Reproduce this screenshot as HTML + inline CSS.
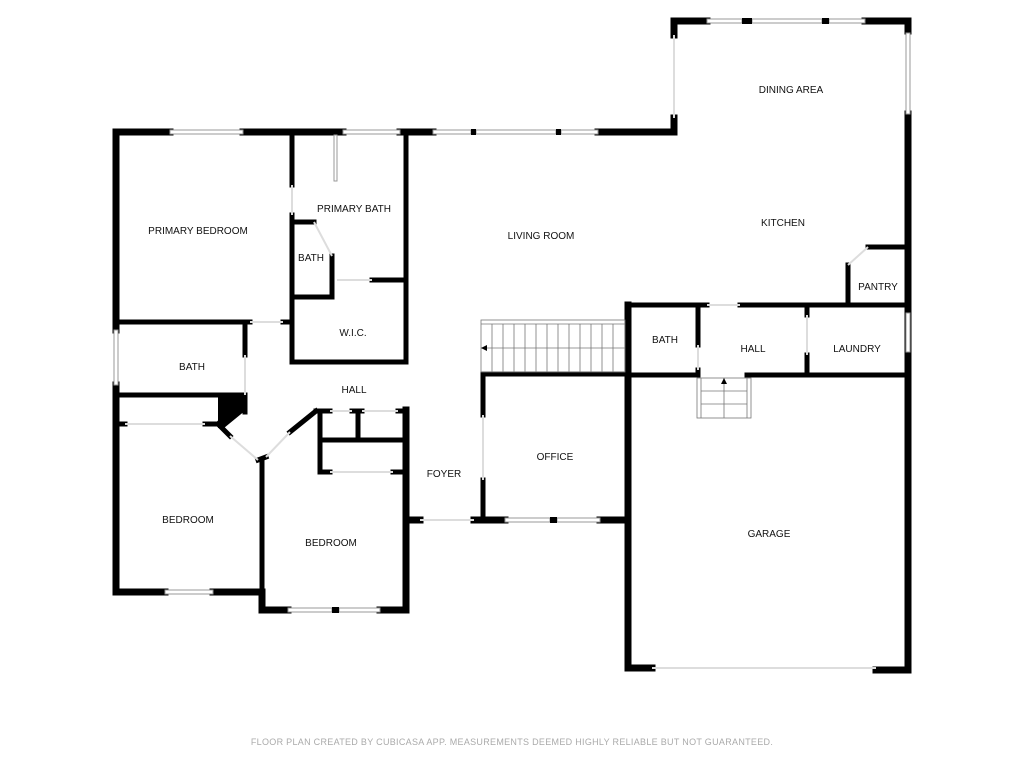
<!DOCTYPE html>
<html><head><meta charset="utf-8"><style>
body{margin:0;background:#fff}
svg text{font-family:"Liberation Sans",sans-serif;font-size:10px;fill:#111;text-anchor:middle}
</style></head><body>
<svg width="1024" height="768" viewBox="0 0 1024 768" xmlns="http://www.w3.org/2000/svg">
<rect width="1024" height="768" fill="#fff"/>
<g stroke="#000" stroke-width="7" stroke-linecap="square" fill="none">
<path d="M116 132H170M243 132H343M400 132H433M598 132H674V118M674 35V21H707M865 21H908V31M908 114V670H876"/>
<path d="M116 132V330M116 385V592H165M213 592H262V610H288M380 610H406V410"/>
<path d="M406 520H420M474 520H505M600 520H628"/>
<path d="M628 305V668H652"/>
</g>
<g stroke="#000" stroke-width="5" stroke-linecap="square" fill="none">
<path d="M292 132V185M292 215V362H406V132"/>
<path d="M292 222H314M332 256V297H292M372 280H406"/>
<path d="M116 322H250M283 322H292M245 322V355M116 395H245V412M116 424H125M205 424H218"/>
<path d="M218 424L230 436M258 460L266 457M262 460V610M290 432L316 411M316 411H330M352 411H362M398 411H406M320 411V472H330M393 472H406M358 411V440M320 440H406"/>
<path d="M483 375V415M483 480V520M483 374H628"/>
<path d="M628 305H707M740 305H908M698 305V345M698 370V375M628 375H697M747 375H908M807 305V315M807 355V375M848 305V265M868 247H908"/>
</g>
<polygon points="218,395 246,395 246,410 224,428 218,428" fill="#000"/>
<!-- windows -->
<g fill="#fff" stroke="#999" stroke-width="1">
<rect x="170" y="130" width="73" height="4"/><rect x="343" y="130" width="57" height="4"/>
<rect x="433" y="130" width="38" height="4"/><rect x="476" y="130" width="80" height="4"/><rect x="561" y="130" width="37" height="4"/>
<rect x="707" y="19" width="35" height="4"/><rect x="752" y="19" width="70" height="4"/><rect x="829" y="19" width="36" height="4"/>
<rect x="906" y="33" width="4" height="81"/><rect x="906" y="313" width="4" height="39"/>
<rect x="114" y="330" width="4" height="55"/><rect x="165" y="590" width="48" height="4"/>
<rect x="288" y="608" width="44" height="4"/><rect x="339" y="608" width="41" height="4"/>
<rect x="505" y="518" width="45" height="4"/><rect x="557" y="518" width="43" height="4"/>
<rect x="334" y="135" width="3" height="46"/>
</g>
<g fill="#000">
<rect x="471" y="129" width="5" height="6"/><rect x="556" y="129" width="5" height="6"/>
<rect x="742" y="18" width="10" height="6"/><rect x="822" y="18" width="7" height="6"/>
<rect x="550" y="517" width="7" height="6"/><rect x="332" y="607" width="7" height="6"/>
</g>
<g stroke="#ddd" stroke-width="2" fill="none">
<path d="M125 424H205M674 35V118M230 436L258 460M266 457L290 432M330 472H393M652 668H876M483 415V480M420 520H474M707 305H740M337 280H372M250 322H283M245 355V395M292 185V215M314 222L332 256M848 265L868 247M807 315V355M698 345V370M330 411H352M362 411H398"/>
</g>
<!-- stairs -->
<g stroke="#777" stroke-width="0.8" fill="none">
<rect x="481" y="320" width="144" height="52"/>
<path d="M481 324H625M481 348H625"/>
<path d="M492 324V372M503 324V372M514 324V372M525 324V372M536 324V372M547 324V372M558 324V372M569 324V372M580 324V372M591 324V372M602 324V372M613 324V372"/>
<rect x="697" y="378" width="54" height="40"/>
<path d="M701 378V418M747 378V418M724 378V418M701 391H747M701 404H747"/>
</g>
<polygon points="481,348 487,345 487,351" fill="#000"/>
<polygon points="724,378 721,384 727,384" fill="#000"/>
<text x="198" y="234">PRIMARY BEDROOM</text>
<text x="354" y="212">PRIMARY BATH</text>
<text x="311" y="261">BATH</text>
<text x="353" y="336">W.I.C.</text>
<text x="192" y="370">BATH</text>
<text x="354" y="393">HALL</text>
<text x="188" y="523">BEDROOM</text>
<text x="331" y="546">BEDROOM</text>
<text x="444" y="477">FOYER</text>
<text x="555" y="460">OFFICE</text>
<text x="541" y="239">LIVING ROOM</text>
<text x="791" y="93">DINING AREA</text>
<text x="783" y="226">KITCHEN</text>
<text x="878" y="290">PANTRY</text>
<text x="665" y="343">BATH</text>
<text x="753" y="352">HALL</text>
<text x="857" y="352">LAUNDRY</text>
<text x="769" y="537">GARAGE</text>
<text x="512" y="745" style="font-size:9px;fill:#aaa;letter-spacing:0.3px">FLOOR PLAN CREATED BY CUBICASA APP. MEASUREMENTS DEEMED HIGHLY RELIABLE BUT NOT GUARANTEED.</text>
</svg>
</body></html>
